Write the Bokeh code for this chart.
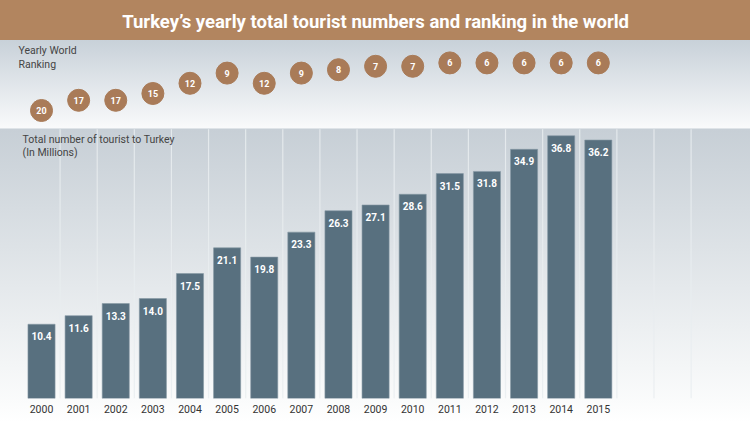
from bokeh.plotting import figure
from bokeh.models import Range1d, FixedTicker, Label, ColumnDataSource
from bokeh.core.properties import value
from bokeh.embed import file_html
from bokeh.resources import INLINE

years = [2000, 2001, 2002, 2003, 2004, 2005, 2006, 2007, 2008, 2009, 2010, 2011, 2012, 2013, 2014, 2015]
tourists = [10.4, 11.6, 13.3, 14.0, 17.5, 21.1, 19.8, 23.3, 26.3, 27.1, 28.6, 31.5, 31.8, 34.9, 36.8, 36.2]
rankings = [20, 17, 17, 15, 12, 9, 12, 9, 8, 7, 7, 6, 6, 6, 6, 6]
boundaries = [y + 0.5 for y in years] + [2015.5 + k for k in range(1, 3)]

TITLE = "Turkey\u2019s yearly total tourist numbers and ranking in the world"
FONT = "Roboto"

src = ColumnDataSource(dict(
    year=years, tourists=tourists, rank=rankings,
    tlabel=[f"{v:.1f}" for v in tourists],
    rlabel=[str(r) for r in rankings],
))

p = figure(width=750, height=422, output_backend="svg", toolbar_location=None,
           x_range=Range1d(1998.895, 2019.1), y_range=Range1d(0, 55.74),
           min_border_left=0, min_border_right=0, min_border_top=0, min_border_bottom=24,
           outline_line_color=None)
p.background_fill_alpha = 0
p.border_fill_alpha = 0
p.styles = {"background": "linear-gradient(to bottom, #b2855f 0px, #b2855f 40px, #c8d1d9 40px, #f9fafb 128px, #dfe4e8 128px, #dfe4e8 129.5px, #c7cfd6 129.5px, #fbfcfc 405px, #ffffff 422px)"}
p.extra_y_ranges = {"rank": Range1d(104.7, -12.35)}

p.xgrid.visible = False
p.ygrid.visible = False
p.yaxis.visible = False

# separator grid lines in the bar panel
p.segment(x0=boundaries, x1=boundaries, y0=0, y1=37.7, line_color="#e9edf0", line_width=1.2, line_alpha=0.85)

p.vbar(x="year", top="tourists", width=0.73, bottom=0, source=src,
       fill_color="#58707f", line_color="#8799a4", line_width=0.6)
p.text(x="year", y="tourists", text="tlabel", source=src, y_offset=8,
       text_align="center", text_baseline="top", text_color="white",
       text_font=value(FONT), text_font_style="bold", text_font_size="10px")

p.scatter(x="year", y="rank", y_range_name="rank", source=src, size=22,
          fill_color="#a97b58", line_color="#a97b58")
p.text(x="year", y="rank", y_range_name="rank", text="rlabel", source=src,
       text_align="center", text_baseline="middle", text_color="white",
       text_font=value(FONT), text_font_style="bold", text_font_size="9px")

p.xaxis.ticker = FixedTicker(ticks=years)
p.xaxis.axis_line_color = None
p.xaxis.major_tick_line_color = None
p.xaxis.minor_tick_line_color = None
p.xaxis.major_label_standoff = 0
p.xaxis.major_label_text_font = FONT
p.xaxis.major_label_text_font_size = "10.5px"
p.xaxis.major_label_text_color = "#333333"

p.add_layout(Label(x=2009.0, y=52.66, text=TITLE, text_align="center", text_baseline="middle",
                   text_color="white", text_font=FONT, text_font_style="bold", text_font_size="18.5px"))
p.add_layout(Label(x=1999.38, y=49.6, text="Yearly World\nRanking", text_align="left", text_baseline="top",
                   text_color="#444444", text_font=FONT, text_font_size="10.5px", text_line_height=1.05))
p.add_layout(Label(x=1999.49, y=37.25, text="Total number of tourist to Turkey\n(In Millions)", text_align="left",
                   text_baseline="top", text_color="#444444", text_font=FONT, text_font_size="10.5px",
                   text_line_height=1.05))

open("out.html", "w").write(file_html(p, INLINE))
